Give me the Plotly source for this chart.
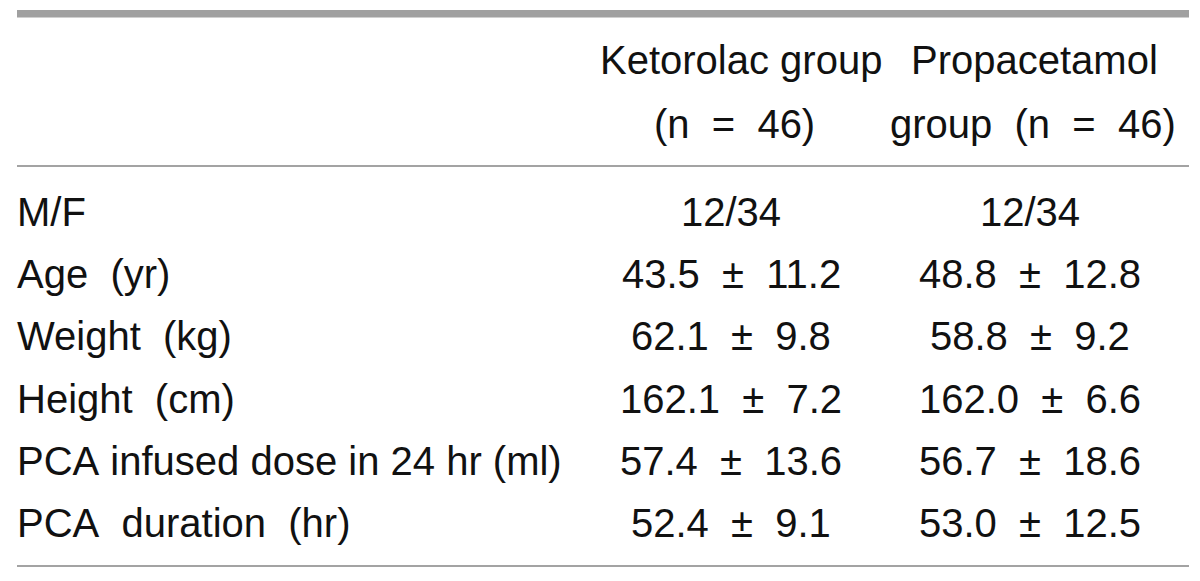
import plotly.graph_objects as go

# page body has an 8px default margin; figure is sized to fit inside the window
OFF = 8
W, H = 1200 - 2 * OFF, 581 - 2 * OFF

row_labels = ["M/F", "Age  (yr)", "Weight  (kg)", "Height  (cm)",
              "PCA infused dose in 24 hr (ml)", "PCA  duration  (hr)"]
ketorolac = ["12/34", "43.5  ±  11.2", "62.1  ±  9.8", "162.1  ±  7.2",
             "57.4  ±  13.6", "52.4  ±  9.1"]
propacetamol = ["12/34", "48.8  ±  12.8", "58.8  ±  9.2", "162.0  ±  6.6",
                "56.7  ±  18.6", "53.0  ±  12.5"]
header_ket = ["Ketorolac group", "(n  =  46)"]
header_pro = ["Propacetamol", "group  (n  =  46)"]

FONT = "Liberation Sans, Arial, sans-serif"
FS = 40
TEXT = "#111111"
LINE = "#a3a3a3"

def px(x):
    return (x - OFF) / W

def py(y):
    return 1 - (y - OFF) / H

def nb(s):
    return s.replace(" ", "\u00a0")

fig = go.Figure()
ann = []

header_y = [60, 124]
for i, t in enumerate(header_ket):
    ann.append(dict(x=px(741 if i == 0 else 734), y=py(header_y[i]), text=nb(t),
                    xanchor="center", yanchor="middle"))
for i, t in enumerate(header_pro):
    ann.append(dict(x=px(1034 if i == 0 else 1033), y=py(header_y[i]), text=nb(t),
                    xanchor="center", yanchor="middle"))

row_y0, row_dy = 212, 62.2
for i, (lab, k, p) in enumerate(zip(row_labels, ketorolac, propacetamol)):
    y = py(row_y0 + i * row_dy)
    ann.append(dict(x=px(15), y=y, text=nb(lab), xanchor="left", yanchor="middle"))
    ann.append(dict(x=px(731), y=y, text=nb(k), xanchor="center", yanchor="middle"))
    ann.append(dict(x=px(1030), y=y, text=nb(p), xanchor="center", yanchor="middle"))

for a in ann:
    a.update(xref="paper", yref="paper", showarrow=False,
             font=dict(family=FONT, size=FS, color=TEXT))

shapes = [
    dict(type="rect", xref="paper", yref="paper", x0=px(17), x1=px(1189),
         y0=py(17.5), y1=py(10), fillcolor="#a0a0a0", line=dict(width=0)),
    dict(type="line", xref="paper", yref="paper", x0=px(17), x1=px(1189),
         y0=py(166), y1=py(166), line=dict(color=LINE, width=2)),
    dict(type="line", xref="paper", yref="paper", x0=px(17), x1=px(1189),
         y0=py(566), y1=py(566), line=dict(color=LINE, width=2)),
]

fig.update_layout(
    width=W, height=H,
    margin=dict(l=0, r=0, t=0, b=0),
    paper_bgcolor="white", plot_bgcolor="white",
    xaxis=dict(visible=False, range=[0, 1], fixedrange=True),
    yaxis=dict(visible=False, range=[0, 1], fixedrange=True),
    annotations=ann, shapes=shapes, showlegend=False,
)
fig.write_html("out.html")
